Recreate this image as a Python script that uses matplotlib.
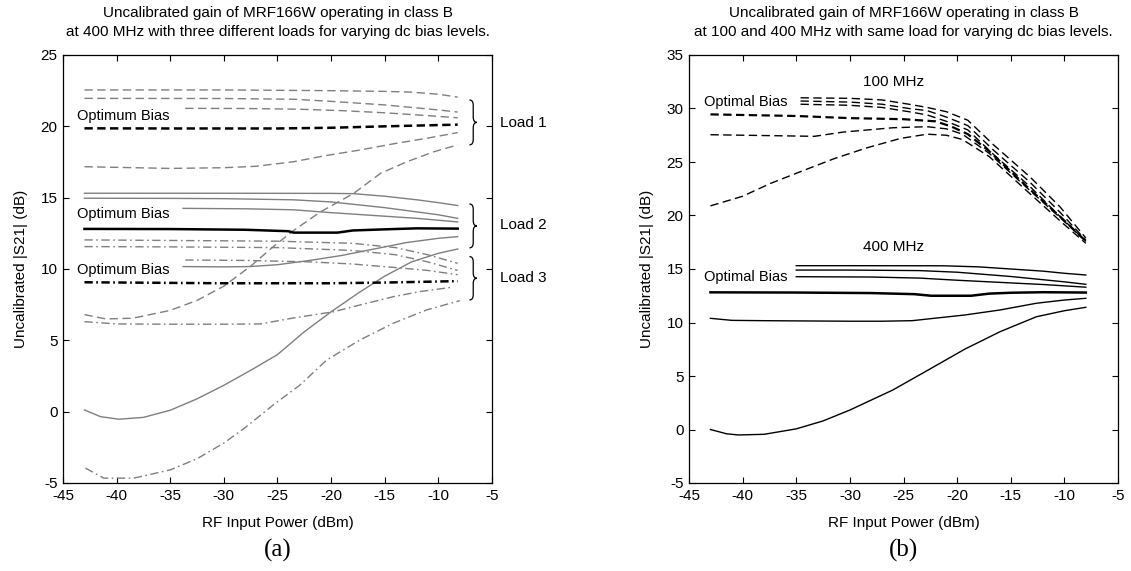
import matplotlib
matplotlib.use("Agg")
import matplotlib.pyplot as plt
from matplotlib.path import Path
from matplotlib.patches import PathPatch

plt.rcParams['font.family'] = ['Liberation Sans', 'DejaVu Sans']
plt.rcParams['lines.scale_dashes'] = False

# ---------------- Panel (a) data: 400 MHz, three loads ----------------
# Load 1 (dashed)
l1a_x = [-43, -30, -20, -15, -12.6, -10, -8.2]
l1a_y = [22.55, 22.55, 22.5, 22.45, 22.4, 22.25, 22.05]
l1b_x = [-43, -30, -23.5, -20, -15, -10, -8.2]
l1b_y = [21.96, 21.95, 21.9, 21.75, 21.5, 21.15, 21.0]
l1c_x = [-33.6, -28, -23, -19, -15, -11, -8.2]
l1c_y = [21.26, 21.25, 21.2, 21.1, 20.95, 20.75, 20.6]
l1opt_x = [-43, -35, -25, -20, -15, -8.2]
l1opt_y = [19.86, 19.85, 19.85, 19.9, 20.0, 20.12]
l1d_x = [-43, -35, -30, -27, -23.5, -20.5, -17.3, -14, -11.1, -8.2]
l1d_y = [17.17, 17.05, 17.1, 17.2, 17.52, 17.95, 18.34, 18.8, 19.16, 19.56]
l1e_x = [-43, -41, -38.5, -35, -32.5, -30, -27.5, -25.5, -23.5, -21, -17.9, -15.4, -13, -10.5, -8.2]
l1e_y = [6.8, 6.5, 6.55, 7.1, 7.8, 8.8, 10.2, 11.5, 12.7, 14.0, 15.3, 16.7, 17.5, 18.2, 18.7]

# Load 2 (solid)
l2a_x = [-43, -30, -20, -17.9, -15, -12, -10, -8.2]
l2a_y = [15.31, 15.31, 15.3, 15.28, 15.1, 14.85, 14.65, 14.45]
l2b_x = [-43, -35, -30, -23.5, -20, -15, -12, -10, -8.2]
l2b_y = [14.96, 14.95, 14.93, 14.85, 14.7, 14.3, 14.0, 13.8, 13.55]
l2c_x = [-33.8, -28, -23.5, -20, -15, -12, -8.2]
l2c_y = [14.25, 14.22, 14.15, 13.95, 13.7, 13.55, 13.3]
l2opt_x = [-43, -35, -28, -24, -23.5, -19.4, -18, -15, -12, -8.2]
l2opt_y = [12.81, 12.8, 12.75, 12.65, 12.55, 12.55, 12.7, 12.78, 12.85, 12.83]
l2d_x = [-33.8, -30, -27.6, -25, -22, -19, -16, -13, -10, -8.2]
l2d_y = [10.17, 10.15, 10.17, 10.3, 10.6, 10.95, 11.4, 11.85, 12.15, 12.27]
l2e_x = [-43, -41.5, -39.8, -37.5, -35, -32.5, -30, -27.5, -25, -22.5, -20, -17.5, -15, -12.5, -10, -8.2]
l2e_y = [0.12, -0.35, -0.53, -0.4, 0.1, 0.9, 1.85, 2.9, 4.0, 5.6, 7.0, 8.3, 9.5, 10.5, 11.1, 11.4]

# Load 3 (dash-dot)
l3a_x = [-43, -35, -25, -18, -14, -11, -8.2]
l3a_y = [12.04, 12.0, 11.95, 11.8, 11.5, 11.0, 10.4]
l3b_x = [-43, -35, -25, -18, -14, -11, -8.2]
l3b_y = [11.57, 11.55, 11.5, 11.3, 11.0, 10.5, 9.9]
l3c_x = [-33.6, -28, -22, -18, -14, -11, -8.2]
l3c_y = [10.63, 10.6, 10.5, 10.35, 10.1, 9.9, 9.6]
l3opt_x = [-43, -30, -20, -15, -8.2]
l3opt_y = [9.07, 9.0, 9.0, 9.05, 9.15]
l3d_x = [-43, -40, -35, -30, -26.6, -23.5, -19.8, -17.3, -14.2, -11.7, -8.75]
l3d_y = [6.31, 6.15, 6.13, 6.13, 6.15, 6.57, 7.0, 7.48, 8.06, 8.42, 8.72]
l3e_x = [-42.9, -41.2, -38.4, -35, -32.5, -30, -27.9, -25.4, -22.9, -20.4, -17.3, -14.2, -11.1, -8]
l3e_y = [-3.96, -4.66, -4.66, -4.08, -3.3, -2.2, -1.05, 0.47, 1.87, 3.63, 5.03, 6.2, 7.13, 7.78]

# ---------------- Panel (b) data: 100 MHz and 400 MHz ----------------
h1_x = [-43, -40, -37.4, -34.6, -31.5, -28.5, -25.3, -22.8, -21, -19.5, -17, -13.5, -10.4, -8]
h1_y = [20.9, 21.8, 23.0, 24.1, 25.3, 26.3, 27.2, 27.6, 27.5, 27.1, 25.5, 22.3, 19.5, 17.4]
h2_x = [-43, -33.3, -30.6, -26, -22.8, -21, -19.5, -17, -13.5, -10.4, -8]
h2_y = [27.55, 27.4, 27.8, 28.2, 28.3, 28.1, 27.6, 25.8, 22.6, 19.8, 17.6]
h3_x = [-43, -35, -30, -25, -22, -20.5, -19, -17, -13.5, -10.4, -8]
h3_y = [29.45, 29.3, 29.1, 29.0, 28.8, 28.3, 27.6, 26.0, 22.7, 19.9, 17.6]
h4_x = [-34.6, -30, -27, -24.5, -22.8, -21, -19, -16.6, -13.2, -10.4, -8]
h4_y = [30.4, 30.3, 30.1, 29.7, 29.4, 28.8, 28.0, 25.7, 22.7, 19.9, 17.6]
h5_x = [-34.6, -30, -27, -24.5, -22.8, -21, -19, -16.6, -13.2, -10.4, -8]
h5_y = [30.7, 30.6, 30.4, 30.0, 29.8, 29.2, 28.4, 26.1, 23.1, 20.3, 17.7]
h6_x = [-34.6, -30, -27, -24.5, -22.8, -21, -19, -16.6, -13.2, -10.4, -8]
h6_y = [31.0, 30.95, 30.8, 30.4, 30.1, 29.7, 28.9, 26.6, 23.6, 20.8, 17.9]

f1_x = [-35, -30, -21.3, -18, -15, -12, -10, -8]
f1_y = [15.31, 15.31, 15.3, 15.2, 15.0, 14.8, 14.6, 14.44]
f2_x = [-35, -30, -23.5, -20, -15, -12, -10, -8]
f2_y = [14.9, 14.9, 14.85, 14.7, 14.3, 14.0, 13.8, 13.57]
f3_x = [-35, -28, -23.5, -20, -15, -12, -8]
f3_y = [14.28, 14.25, 14.15, 13.95, 13.7, 13.55, 13.3]
f4_x = [-43, -35, -28, -24, -22.4, -18.7, -17, -15, -12, -8]
f4_y = [12.82, 12.8, 12.75, 12.65, 12.5, 12.5, 12.7, 12.78, 12.83, 12.8]
f5_x = [-43, -41, -38, -35, -30, -27, -24.2, -19.3, -16, -12.6, -10, -8]
f5_y = [10.39, 10.2, 10.17, 10.15, 10.12, 10.12, 10.17, 10.7, 11.17, 11.8, 12.1, 12.26]
f6_x = [-43, -41.5, -40.4, -38, -35, -32.5, -30, -26, -22.7, -19.3, -16, -12.6, -10, -8]
f6_y = [0.0, -0.4, -0.51, -0.45, 0.06, 0.8, 1.82, 3.69, 5.56, 7.5, 9.14, 10.54, 11.1, 11.42]

xticks = [-45, -40, -35, -30, -25, -20, -15, -10, -5]
yticks_a = [-5, 0, 5, 10, 15, 20, 25]
yticks_b = [-5, 0, 5, 10, 15, 20, 25, 30, 35]

title_a = ["Uncalibrated gain of MRF166W operating in class B",
           "at 400 MHz with three different loads for varying dc bias levels."]
title_b = ["Uncalibrated gain of MRF166W operating in class B",
           "at 100 and 400 MHz with same load for varying dc bias levels."]

# ---------------- styles ----------------
GRAY = '#7f7f7f'
DASH = (0, (6.0, 3.2))
DASHDOT = (0, (6.0, 2.5, 1.2, 2.5))
FS = 11
FS_ANN = 10.5

W, H = 1131, 571
fig = plt.figure(figsize=(W / 100, H / 100), dpi=100)
axA = fig.add_axes([63 / W, 1 - 483 / H, 429 / W, 428 / H])
axB = fig.add_axes([689 / W, 1 - 483 / H, 429 / W, 428 / H])


def style(ax, yt):
    ax.set_xlim(-45, -5)
    ax.set_ylim(yt[0], yt[-1])
    ax.set_xticks(xticks)
    ax.set_yticks(yt)
    ax.set_xticklabels([str(v) for v in xticks])
    ax.set_yticklabels([str(v) for v in yt])
    ax.tick_params(direction='in', top=True, right=True, length=4, width=0.8,
                   labelsize=FS, pad=4)
    for s in ax.spines.values():
        s.set_linewidth(0.9)


def brace(ax, x0, y0, y1, w):
    ym = (y0 + y1) / 2
    h = y1 - y0
    r = min(h * 0.12, 0.45)
    xm = x0 + w * 0.5
    verts = [(x0, y1), (xm, y1), (xm, y1 - r),
             (xm, ym + r),
             (xm, ym), (x0 + w, ym), (x0 + w, ym),
             (xm, ym), (xm, ym - r),
             (xm, y0 + r),
             (xm, y0), (x0, y0)]
    codes = [Path.MOVETO, Path.CURVE3, Path.CURVE3,
             Path.LINETO,
             Path.CURVE3, Path.CURVE3, Path.MOVETO,
             Path.CURVE3, Path.CURVE3,
             Path.LINETO,
             Path.CURVE3, Path.CURVE3]
    ax.add_patch(PathPatch(Path(verts, codes), fill=False, lw=0.9,
                           color='black', clip_on=False))


# ---- panel a ----
for xs, ys in [(l1a_x, l1a_y), (l1b_x, l1b_y), (l1c_x, l1c_y), (l1d_x, l1d_y), (l1e_x, l1e_y)]:
    axA.plot(xs, ys, color=GRAY, lw=1.0, linestyle=DASH)
axA.plot(l1opt_x, l1opt_y, color='black', lw=1.8, linestyle=DASH)
for xs, ys in [(l2a_x, l2a_y), (l2b_x, l2b_y), (l2c_x, l2c_y), (l2d_x, l2d_y), (l2e_x, l2e_y)]:
    axA.plot(xs, ys, color=GRAY, lw=1.0, linestyle='-')
axA.plot(l2opt_x, l2opt_y, color='black', lw=1.8, linestyle='-')
for xs, ys in [(l3a_x, l3a_y), (l3b_x, l3b_y), (l3c_x, l3c_y), (l3d_x, l3d_y), (l3e_x, l3e_y)]:
    axA.plot(xs, ys, color=GRAY, lw=1.0, linestyle=DASHDOT)
axA.plot(l3opt_x, l3opt_y, color='black', lw=1.8, linestyle=DASHDOT)

axA.text(-43.7, 20.75, "Optimum Bias", fontsize=FS_ANN, va='center', ha='left')
axA.text(-43.7, 13.86, "Optimum Bias", fontsize=FS_ANN, va='center', ha='left')
axA.text(-43.7, 9.93, "Optimum Bias", fontsize=FS_ANN, va='center', ha='left')
for (b0, b1, lab, ly) in [(18.7, 21.85, "Load 1", 20.26), (11.48, 14.56, "Load 2", 13.09),
                          (7.83, 10.87, "Load 3", 9.35)]:
    brace(axA, -7.1, b0, b1, 0.7)
    axA.text(-4.25, ly, lab, fontsize=FS, va='center', ha='left', clip_on=False)
style(axA, yticks_a)

# ---- panel b ----
for xs, ys in [(h1_x, h1_y), (h2_x, h2_y), (h4_x, h4_y), (h5_x, h5_y), (h6_x, h6_y)]:
    axB.plot(xs, ys, color='black', lw=1.0, linestyle=DASH)
axB.plot(h3_x, h3_y, color='black', lw=1.6, linestyle=DASH)
for xs, ys in [(f1_x, f1_y), (f2_x, f2_y), (f3_x, f3_y), (f5_x, f5_y), (f6_x, f6_y)]:
    axB.plot(xs, ys, color='black', lw=1.0, linestyle='-')
axB.plot(f4_x, f4_y, color='black', lw=1.8, linestyle='-')
axB.text(-25.9, 32.45, "100 MHz", fontsize=FS, va='center', ha='center')
axB.text(-25.9, 17.03, "400 MHz", fontsize=FS, va='center', ha='center')
axB.text(-43.6, 30.58, "Optimal Bias", fontsize=FS_ANN, va='center', ha='left')
axB.text(-43.6, 14.28, "Optimal Bias", fontsize=FS_ANN, va='center', ha='left')
style(axB, yticks_b)

# ---- labels / titles ----
for cx, title in [((63 + 492) / 2, title_a), ((689 + 1118) / 2, title_b)]:
    fig.text(cx / W, 1 - 13 / H, title[0], ha='center', va='center', fontsize=FS)
    fig.text(cx / W, 1 - 32 / H, title[1], ha='center', va='center', fontsize=FS)
    fig.text(cx / W, 1 - 523 / H, "RF Input Power (dBm)", ha='center', va='center', fontsize=FS)
fig.text(21 / W, 1 - 269 / H, "Uncalibrated |S21| (dB)", rotation=90, ha='center', va='center', fontsize=FS)
fig.text(647 / W, 1 - 269 / H, "Uncalibrated |S21| (dB)", rotation=90, ha='center', va='center', fontsize=FS)
fig.text(277.5 / W, 1 - 550 / H, "(a)", ha='center', va='center', fontsize=18, family='Liberation Serif')
fig.text(903.5 / W, 1 - 550 / H, "(b)", ha='center', va='center', fontsize=18, family='Liberation Serif')

fig.savefig("out.png", dpi=100)
